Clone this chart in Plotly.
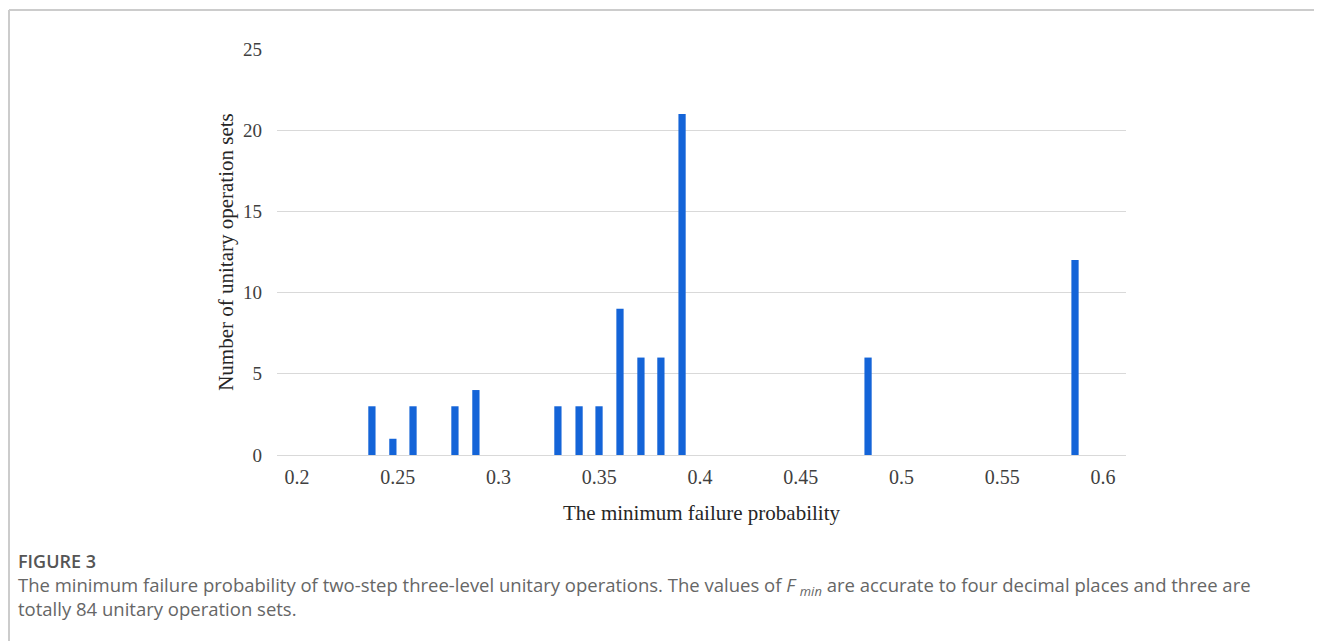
import plotly.graph_objects as go

# Data
fmin_values = [0.2372, 0.2476, 0.2576, 0.2784, 0.2888, 0.3295, 0.3400,
               0.3499, 0.3603, 0.3707, 0.3806, 0.3911, 0.4834, 0.5861]
set_counts = [3, 1, 3, 3, 4, 3, 3, 3, 9, 6, 6, 21, 6, 12]
x_ticks = [0.2, 0.25, 0.3, 0.35, 0.4, 0.45, 0.5, 0.55, 0.6]
x_tick_labels = ["0.2", "0.25", "0.3", "0.35", "0.4", "0.45", "0.5", "0.55", "0.6"]
y_ticks = [0, 5, 10, 15, 20, 25]

OFF = 8  # page body margin
W, H = 1322 - OFF, 641 - OFF
L, R, T, B = 277 - OFF, 196, 49 - OFF, 186
pw, ph = W - L - R, H - T - B

def px(x):
    return (x - OFF - L) / pw

def py(y):
    return (H - B - (y - OFF)) / ph

fig = go.Figure()
fig.add_trace(go.Bar(
    x=fmin_values, y=set_counts, width=0.0036,
    marker=dict(color="#1464d8", line=dict(width=0)),
    hoverinfo="x+y",
))

serif = "Liberation Serif"
fig.update_layout(
    width=W, height=H,
    margin=dict(l=L, r=R, t=T, b=B, pad=0),
    paper_bgcolor="white", plot_bgcolor="white",
    showlegend=False,
    xaxis=dict(
        range=[0.1901, 0.6114], tickmode="array", tickvals=x_ticks,
        ticktext=x_tick_labels, showgrid=False, zeroline=False, showline=False,
        ticks="", tickfont=dict(family=serif, size=20, color="#404040"),
        ticklabelstandoff=8,
        title=dict(text="The minimum failure probability",
                   font=dict(family=serif, size=21, color="#262626"), standoff=18),
    ),
    yaxis=dict(
        range=[0, 25], tickmode="array", tickvals=y_ticks, showgrid=True,
        gridcolor="#d9d9d9", gridwidth=1, zeroline=True, zerolinecolor="#d9d9d9",
        zerolinewidth=1, showline=False, ticks="",
        tickfont=dict(family=serif, size=19, color="#404040"),
        ticklabelstandoff=14,
        title=dict(text="Number of unitary operation sets",
                   font=dict(family=serif, size=21, color="#262626"), standoff=3),
    ),
    shapes=[
        dict(type="line", xref="paper", yref="paper", x0=px(9), x1=px(1330),
             y0=py(10), y1=py(10), line=dict(color="#cccccc", width=2)),
        dict(type="line", xref="paper", yref="paper", x0=px(9), x1=px(9),
             y0=py(10), y1=py(650), line=dict(color="#cccccc", width=2)),
    ],
    annotations=[
        dict(xref="paper", yref="paper", x=px(16), y=py(561), xanchor="left",
             yanchor="middle", showarrow=False, text="FIGURE 3",
             font=dict(family="Open Sans", size=18, color="#555555", weight=600)),
        dict(xref="paper", yref="paper", x=px(16), y=py(596), xanchor="left",
             yanchor="middle", showarrow=False, align="left",
             text=("The minimum failure probability of two-step three-level unitary operations. "
                   "The values of <i>F</i> <sub><i>min</i></sub> are accurate to four decimal places and three are"
                   "<br>totally 84 unitary operation sets."),
             font=dict(family="Open Sans", size=18.5, color="#666666")),
    ],
)

fig.write_html("out.html")
